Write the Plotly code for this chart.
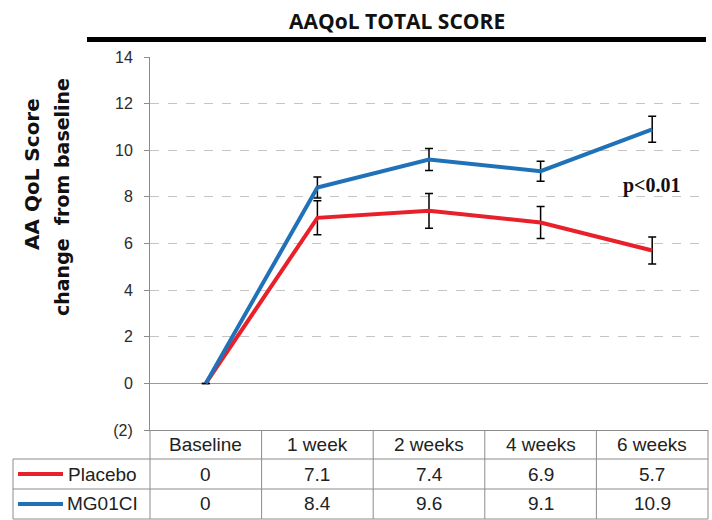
import plotly.graph_objects as go

# ---- data ----
categories = ["Baseline", "1 week", "2 weeks", "4 weeks", "6 weeks"]
placebo = [0, 7.1, 7.4, 6.9, 5.7]
mg01ci = [0, 8.4, 9.6, 9.1, 10.9]
placebo_err = [None, 0.73, 0.75, 0.69, 0.58]
mg01ci_err = [None, 0.45, 0.47, 0.43, 0.56]
series_names = ["Placebo", "MG01CI"]
y_tickvals = [-2, 0, 2, 4, 6, 8, 10, 12, 14]
y_ticktext = ["(2)", "0", "2", "4", "6", "8", "10", "12", "14"]
title_text = "AAQoL TOTAL SCORE"
ytitle_lines = ["AA QoL Score", "change  from baseline"]
p_text = "p<0.01"

RED = "#e8202a"
BLUE = "#1f72b8"
GRID = "#c4c4c4"
BORDER = "#8c8c8c"

W, H = 712, 520
L, R, T, B = 150, 4, 57, 90
PW, PH = W - L - R, H - T - B


def px_x(px):
    return (px - L) / PW


def px_y(py):
    return (H - B - py) / PH


fig = go.Figure()
fig.add_trace(go.Scatter(
    x=categories, y=placebo, mode="lines", name=series_names[0],
    line=dict(color=RED, width=4),
    error_y=dict(type="data", array=placebo_err, color="black", thickness=1.5, width=4),
))
fig.add_trace(go.Scatter(
    x=categories, y=mg01ci, mode="lines", name=series_names[1],
    line=dict(color=BLUE, width=4),
    error_y=dict(type="data", array=mg01ci_err, color="black", thickness=1.5, width=4),
))

shapes = []
annotations = []

# title and thick rule
annotations.append(dict(text=f"<b>{title_text}</b>", x=px_x(397), y=px_y(21), xref="paper", yref="paper",
                        showarrow=False, xanchor="center", yanchor="middle",
                        font=dict(family="Open Sans", size=21, color="#111")))
shapes.append(dict(type="line", xref="paper", yref="paper", x0=px_x(87), x1=px_x(706),
                   y0=px_y(39.5), y1=px_y(39.5), line=dict(color="black", width=5)))

# y axis title (two lines)
annotations.append(dict(text=f"<b>{ytitle_lines[0]}</b>", x=px_x(32), y=px_y(174), xref="paper", yref="paper",
                        showarrow=False, textangle=-90, xanchor="center", yanchor="middle",
                        font=dict(family="DejaVu Sans", size=20, color="#111")))
annotations.append(dict(text=f"<b>{ytitle_lines[1]}</b>", x=px_x(62), y=px_y(197), xref="paper", yref="paper",
                        showarrow=False, textangle=-90, xanchor="center", yanchor="middle",
                        font=dict(family="DejaVu Sans", size=19, color="#111")))

# p value
annotations.append(dict(text=f"<b>{p_text}</b>", x=categories[-1], y=8.5, xref="x", yref="y",
                        showarrow=False, xanchor="center", yanchor="middle",
                        font=dict(family="Liberation Serif", size=20, color="#111")))

# ---- data table under the chart ----
row_top = [430, 459, 489]
row_bot = [459, 489, 519]
row_mid = [(a + b) / 2 for a, b in zip(row_top, row_bot)]
tfont = dict(family="Liberation Sans", size=19, color="#222")

# horizontal lines
for yy in [459, 489, 519]:
    shapes.append(dict(type="line", xref="paper", yref="paper", x0=px_x(13), x1=1,
                       y0=px_y(yy), y1=px_y(yy), line=dict(color=BORDER, width=1)))
# vertical lines at category boundaries
n = len(categories)
for i in range(n + 1):
    shapes.append(dict(type="line", xref="paper", yref="paper", x0=i / n, x1=i / n,
                       y0=px_y(430), y1=px_y(519), line=dict(color=BORDER, width=1)))
shapes.append(dict(type="line", xref="paper", yref="paper", x0=px_x(13), x1=px_x(13),
                   y0=px_y(459), y1=px_y(519), line=dict(color=BORDER, width=1)))

# header row
for c in categories:
    annotations.append(dict(text=c, x=c, y=px_y(row_mid[0]), xref="x", yref="paper",
                            showarrow=False, xanchor="center", yanchor="middle", font=tfont))

# value rows
for r, (name, vals, col) in enumerate(zip(series_names, [placebo, mg01ci], [RED, BLUE]), start=1):
    ym = px_y(row_mid[r])
    shapes.append(dict(type="line", xref="paper", yref="paper", x0=px_x(18), x1=px_x(63),
                       y0=ym, y1=ym, line=dict(color=col, width=4)))
    annotations.append(dict(text=name, x=px_x(102), y=ym, xref="paper", yref="paper",
                            showarrow=False, xanchor="center", yanchor="middle", font=tfont))
    for c, v in zip(categories, vals):
        annotations.append(dict(text=f"{v:g}", x=c, y=ym, xref="x", yref="paper",
                                showarrow=False, xanchor="center", yanchor="middle", font=tfont))

fig.update_layout(
    width=W, height=H,
    margin=dict(l=L, r=R, t=T, b=B),
    paper_bgcolor="white", plot_bgcolor="white",
    showlegend=False,
    shapes=shapes, annotations=annotations,
    xaxis=dict(type="category", range=[-0.5, n - 0.5], showticklabels=False, ticks="",
               showgrid=False, zeroline=False, showline=True, linecolor=BORDER, linewidth=1,
               fixedrange=True),
    yaxis=dict(range=[-2, 14], tickvals=y_tickvals, ticktext=y_ticktext,
               showgrid=True, gridcolor=GRID, griddash="dash", gridwidth=1,
               zeroline=True, zerolinecolor="#9a9a9a", zerolinewidth=1,
               showline=True, linecolor=BORDER, linewidth=1,
               ticks="outside", ticklen=5, tickcolor=BORDER, ticklabelstandoff=8,
               tickfont=dict(family="Liberation Sans", size=16, color="#2a2a2a"),
               fixedrange=True),
)

fig.write_html("out.html", config={"displayModeBar": False},
               post_script="document.body.style.margin='0px';document.body.style.overflow='hidden';")
